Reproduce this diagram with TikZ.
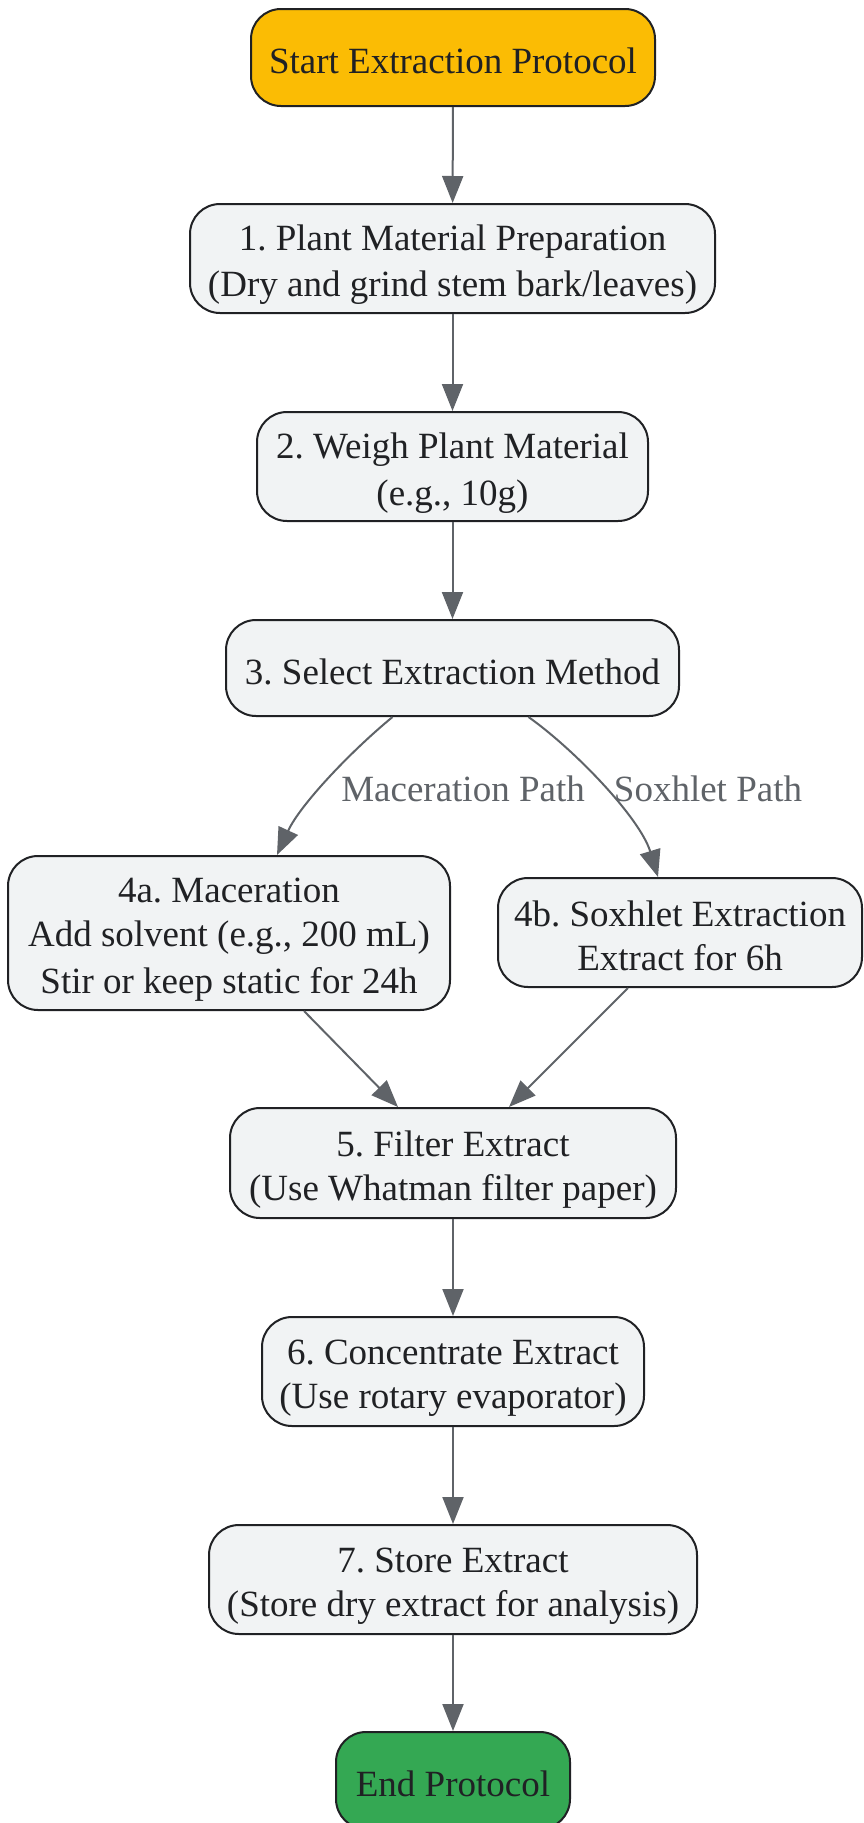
\documentclass[tikz,border=0pt]{standalone}
\usepackage{fontspec}
\setmainfont{Liberation Serif}
\usetikzlibrary{arrows.meta,calc}
\definecolor{startc}{HTML}{FBBC04}
\definecolor{endc}{HTML}{34A853}
\definecolor{boxc}{HTML}{F1F3F4}
\definecolor{linec}{HTML}{202124}
\definecolor{edgec}{HTML}{5F6368}
\newcommand\ms{\rule[-6pt]{0pt}{44pt}}
\frenchspacing
\tikzset{
  box/.style={draw=linec, line width=2pt, fill=boxc, rounded corners=30pt,
    align=center, inner sep=0pt, text=linec,
    font=\fontsize{37}{44}\selectfont\frenchspacing},
  edge/.style={draw=edgec, line width=2pt, -{Triangle[length=27pt,width=21pt]}},
  lbl/.style={text=edgec, inner sep=0pt, font=\fontsize{37}{44}\selectfont}
}
\begin{document}
\begin{tikzpicture}[x=1pt,y=-1pt]
\path[use as bounding box] (0,0) rectangle (863,1823);
\node[box, fill=startc, minimum width=404pt, minimum height=97pt] (st) at (453,57.5) {\ms Start Extraction Protocol};
\node[box, minimum width=525pt, minimum height=109pt] (n1) at (452.5,258.5) {\ms 1. Plant Material Preparation\\\ms (Dry and grind stem bark/leaves)};
\node[box, minimum width=391pt, minimum height=109pt] (n2) at (452.5,466.5) {\ms 2. Weigh Plant Material\\\ms (e.g., 10g)};
\node[box, minimum width=453pt, minimum height=96pt] (n3) at (452.5,668) {\ms 3. Select Extraction Method};
\node[box, minimum width=442pt, minimum height=154pt] (n4a) at (229,933) {\ms 4a. Maceration\\\ms Add solvent (e.g., 200 mL)\\\ms Stir or keep static for 24h};
\node[box, minimum width=364pt, minimum height=109pt] (n4b) at (680,932.5) {\ms 4b. Soxhlet Extraction\\\ms Extract for 6h};
\node[box, minimum width=446pt, minimum height=110pt] (n5) at (453,1163) {\ms 5. Filter Extract\\\ms (Use Whatman filter paper)};
\node[box, minimum width=382pt, minimum height=109pt] (n6) at (453,1371.5) {\ms 6. Concentrate Extract\\\ms (Use rotary evaporator)};
\node[box, minimum width=488pt, minimum height=109pt] (n7) at (453,1579.5) {\ms 7. Store Extract\\\ms (Store dry extract for analysis)};
\node[box, fill=endc, minimum width=234pt, minimum height=97pt] (en) at (453,1780.5) {\ms End Protocol};
\node[lbl] (lm) at (463,789) {Maceration Path};
\node[lbl] (ls) at (708,789) {Soxhlet Path};
\draw[edge] (st) -- (n1);
\draw[edge] (n1) -- (n2);
\draw[edge] (n2) -- (n3);
\draw[edge] ($(n3.south)+(-60,0)$) .. controls (350,752) and (300,805) .. ($(n4a.north)+(48,0)$);
\draw[edge] ($(n3.south)+(76,0)$) .. controls (575,750) and (640,818) .. ($(n4b.north)+(-22,0)$);
\draw[edge] ($(n4a.south)+(75,0)$) -- ($(n5.north)+(-55,0)$);
\draw[edge] ($(n4b.south)+(-52,0)$) -- ($(n5.north)+(56,0)$);
\draw[edge] (n5) -- (n6);
\draw[edge] (n6) -- (n7);
\draw[edge] (n7) -- (en);
\end{tikzpicture}
\end{document}
